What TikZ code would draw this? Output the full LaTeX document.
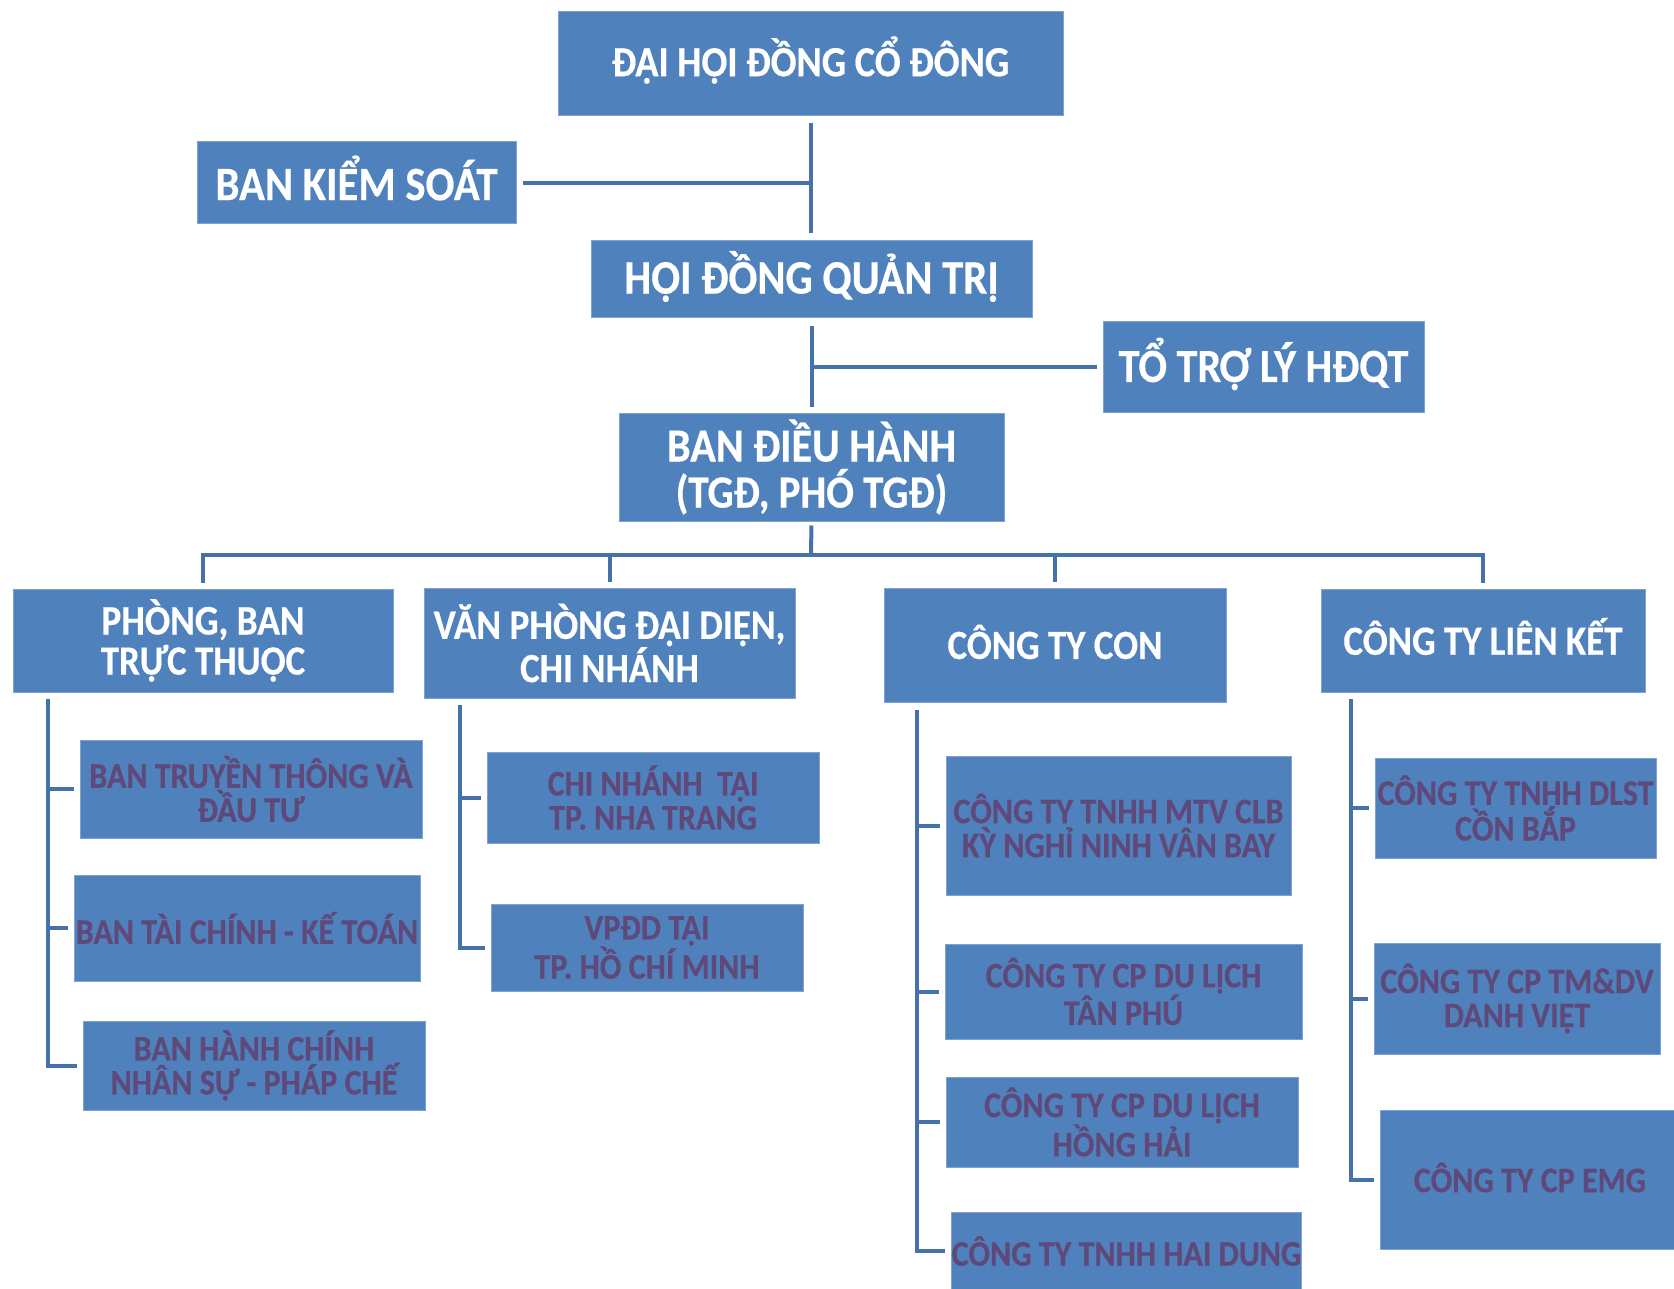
\documentclass[tikz,border=0pt]{standalone}
\usepackage{fontspec}
\setmainfont{Carlito}[FakeStretch=0.89, BoldFeatures={FakeBold=0.4}]
\definecolor{boxblue}{HTML}{4F81BD}
\definecolor{boxedge}{HTML}{7FA2D2}
\definecolor{linkblue}{HTML}{4672AB}
\definecolor{childtxt}{HTML}{5F497A}
\tikzset{
  box/.style={fill=boxblue, draw=boxedge, line width=1pt, inner sep=0pt, align=center, text=white},
  topbox/.style={box, font=\fontsize{46}{46}\selectfont\bfseries},
  lvbox/.style={box, font=\fontsize{41.5}{40}\selectfont\bfseries},
  kidbox/.style={box, text=childtxt, font=\fontsize{36}{34}\selectfont\bfseries},
  link/.style={draw=linkblue, line width=4pt},
}
\newcommand{\bx}[7]{\node[#1, minimum width=#5, minimum height=#6] (#2) at (#3,#4) {#7};}
\newcommand{\up}[2]{\raisebox{#1}[\height][\depth]{#2}}
\begin{document}
\begin{tikzpicture}[x=1pt,y=-1pt]
\useasboundingbox (0,0) rectangle (1674,1289);
% top level
\bx{topbox}{dh}{810.5}{64}{505}{104}{\fontsize{43}{43}\selectfont\up{4pt}{ĐẠI HỘI ĐỒNG CỔ ĐÔNG}}
\bx{topbox}{bks}{356.5}{183}{319}{82}{\fontsize{48}{48}\selectfont\up{5pt}{BAN KIỂM SOÁT}}
\bx{topbox}{hdqt}{811.5}{279.5}{441}{77}{\fontsize{48}{48}\selectfont\up{3pt}{HỘI ĐỒNG QUẢN TRỊ}}
\bx{topbox}{ttl}{1263.5}{367}{321}{90}{\fontsize{47.5}{47.5}\selectfont\up{3pt}{TỔ TRỢ LÝ HĐQT}}
\bx{topbox}{bdh}{811.5}{467}{385}{108}{\fontsize{47.5}{46}\selectfont BAN ĐIỀU HÀNH\\(TGĐ, PHÓ TGĐ)}
% second level
\bx{lvbox}{pb}{203}{640.5}{380}{103}{\fontsize{42}{40}\selectfont PHÒNG, BAN\\TRỰC THUỘC}
\bx{lvbox}{vp}{609.5}{643}{371}{110}{\fontsize{42}{40}\selectfont VĂN PHÒNG ĐẠI DIỆN,\\CHI NHÁNH}
\bx{lvbox}{con}{1055}{645}{342}{114}{\up{3pt}{CÔNG TY CON}}
\bx{lvbox}{lk}{1483}{640.5}{324}{103}{\up{4pt}{CÔNG TY LIÊN KẾT}}
% children
\bx{kidbox}{a1}{251}{789}{342}{98}{BAN TRUYỀN THÔNG VÀ\\ĐẦU TƯ}
\bx{kidbox}{a2}{247}{928}{346}{106}{BAN TÀI CHÍNH - KẾ TOÁN}
\bx{kidbox}{a3}{254}{1065.5}{342}{89}{BAN HÀNH CHÍNH\\NHÂN SỰ - PHÁP CHẾ}
\bx{kidbox}{b1}{653}{797.5}{332}{91}{CHI NHÁNH~ TẠI\\TP. NHA TRANG}
\bx{kidbox}{b2}{647}{947.5}{312}{87}{VPĐD TẠI\\TP. HỒ CHÍ MINH}
\bx{kidbox}{c1}{1118.5}{825.5}{345}{139}{CÔNG TY TNHH MTV CLB\\KỲ NGHỈ NINH VÂN BAY}
\bx{kidbox}{c2}{1123.5}{991.5}{357}{95}{CÔNG TY CP DU LỊCH\\TÂN PHÚ}
\bx{kidbox}{c3}{1122}{1122}{352}{90}{CÔNG TY CP DU LỊCH\\HỒNG HẢI}
\bx{kidbox}{c4}{1126.5}{1251}{347}{78}{CÔNG TY TNHH HAI DUNG}
\bx{kidbox}{d1}{1515.5}{808}{281}{100}{CÔNG TY TNHH DLST\\CỒN BẮP}
\bx{kidbox}{d2}{1517}{998.5}{286}{111}{CÔNG TY CP TM\&DV\\DANH VIỆT}
\bx{kidbox}{d3}{1530}{1179.5}{300}{139}{\up{2pt}{CÔNG TY CP EMG}}
% upper connectors
\draw[link, shorten <=7pt, shorten >=7pt] (dh.south) -- (dh.south |- hdqt.north);
\draw[link, shorten <=6pt] (bks.east) -- (bks.east -| dh.south);
\draw[link, shorten <=8pt, shorten >=6pt] (hdqt.south) -- (hdqt.south |- bdh.north);
\draw[link, shorten <=6pt] (ttl.west) -- (ttl.west -| hdqt.south);
% bus
\coordinate (bus) at (811,555);
\draw[link, shorten <=4pt] (bdh.south) -- (bus);
\draw[link, shorten <=6pt, shorten >=6pt] (pb.north) -- (pb.north |- bus) -- (lk.north |- bus) -- (lk.north);
\draw[link, shorten >=6pt] (vp.north |- bus) -- (vp.north);
\draw[link, shorten >=6pt] (con.north |- bus) -- (con.north);
% column trunks
\coordinate (ta) at (48,699);
\coordinate (tb) at (460,705);
\coordinate (tc) at (917,710);
\coordinate (td) at (1351,699);
\draw[link, shorten >=6pt] (ta) |- (a3.west);
\draw[link, shorten >=6pt] (ta |- a1.west) -- (a1.west);
\draw[link, shorten >=6pt] (ta |- a2.west) -- (a2.west);
\draw[link, shorten >=6pt] (tb) |- (b2.west);
\draw[link, shorten >=6pt] (tb |- b1.west) -- (b1.west);
\draw[link, shorten >=6pt] (tc) |- (c4.west);
\draw[link, shorten >=6pt] (tc |- c1.west) -- (c1.west);
\draw[link, shorten >=6pt] (tc |- c2.west) -- (c2.west);
\draw[link, shorten >=6pt] (tc |- c3.west) -- (c3.west);
\draw[link, shorten >=6pt] (td) |- (d3.west);
\draw[link, shorten >=6pt] (td |- d1.west) -- (d1.west);
\draw[link, shorten >=6pt] (td |- d2.west) -- (d2.west);
\end{tikzpicture}
\end{document}
